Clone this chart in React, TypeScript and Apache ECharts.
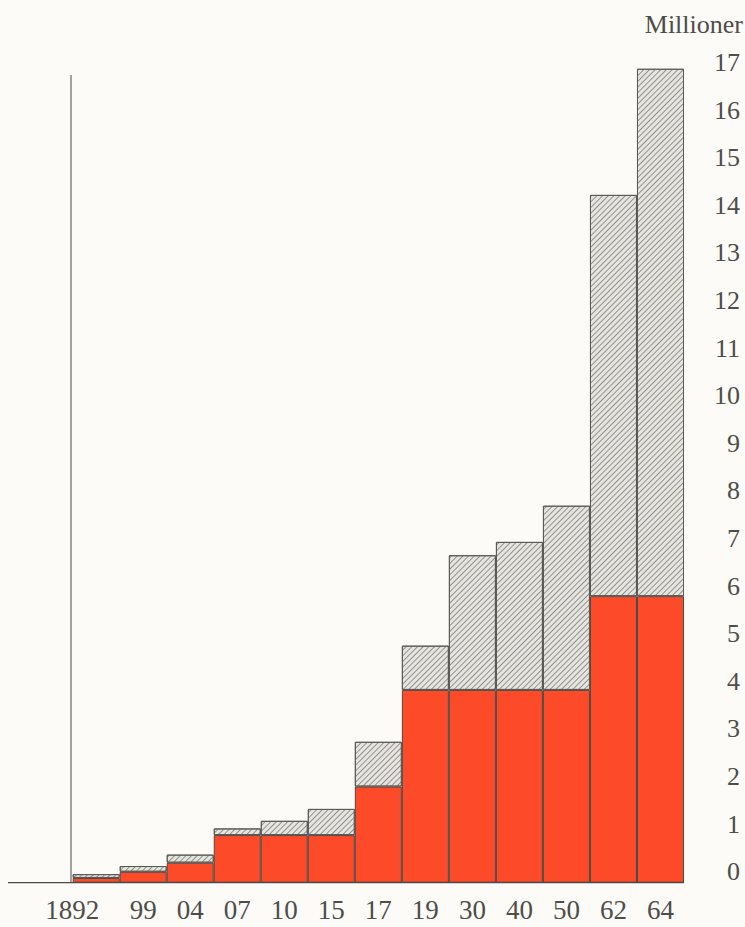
import React, { useEffect, useRef } from "react";
import * as echarts from "echarts";

const years = ["1892", "99", "04", "07", "10", "15", "17", "19", "30", "40", "50", "62", "64"];
const redValues = [0.1, 0.23, 0.42, 1.0, 1.0, 1.0, 2.02, 4.05, 4.05, 4.05, 4.05, 6.02, 6.02];
const totalValues = [0.18, 0.35, 0.59, 1.14, 1.3, 1.55, 2.96, 4.98, 6.88, 7.16, 7.92, 14.45, 17.1];
const yTicks = [0, 17];
const unitLabel = "Millioner";

const W = 745;
const H = 927;
const GRID_LEFT = 72.7;
const GRID_RIGHT = 61;
const GRID_TOP = 64;
const GRID_BOTTOM = 44.3;
const TEXT = "#4e4d49";
const FONT = "Liberation Serif";

export default function App() {
  const ref = useRef<HTMLDivElement>(null);
  useEffect(() => {
    if (!ref.current) return;
    const chart = echarts.init(ref.current, null, { renderer: "svg" });
    const hatched = totalValues.map((t, i) => +(t - redValues[i]).toFixed(3));
    const baseY = H - GRID_BOTTOM;
    chart.setOption({
      animation: false,
      backgroundColor: "#fcfbf8",
      grid: { left: GRID_LEFT, right: GRID_RIGHT, top: GRID_TOP, bottom: GRID_BOTTOM, containLabel: false },
      xAxis: {
        type: "category",
        data: years.map((y, i) =>
          i === 0 ? { value: y, textStyle: { padding: [0, 48, 0, 0] } } : y
        ),
        axisLine: { show: false },
        axisTick: { show: false },
        axisLabel: {
          interval: 0,
          margin: 14,
          color: TEXT,
          fontFamily: FONT,
          fontSize: 27,
        },
      },
      yAxis: {
        type: "value",
        position: "right",
        min: yTicks[0],
        max: 17.2,
        interval: 1,
        splitLine: { show: false },
        axisLine: { show: false },
        axisTick: { show: false },
        axisLabel: {
          margin: 56,
          align: "right",
          verticalAlign: "bottom",
          lineHeight: 22,
          color: TEXT,
          fontFamily: FONT,
          fontSize: 26,
          showMaxLabel: true,
          formatter: (v: number) => (Number.isInteger(v) && v <= yTicks[1] ? String(v) : ""),
        },
      },
      series: [
        {
          type: "bar",
          stack: "total",
          data: redValues,
          barCategoryGap: 0,
          itemStyle: { color: "#fd4a28", borderColor: "#4a4a46", borderWidth: 1 },
        },
        {
          type: "bar",
          stack: "total",
          data: hatched,
          barCategoryGap: 0,
          itemStyle: {
            color: "#e6e5e0",
            borderColor: "#5a5a56",
            borderWidth: 1,
            decal: {
              symbol: "rect",
              color: "rgba(110,110,105,0.7)",
              dashArrayX: [1, 0],
              dashArrayY: [1, 2.2],
              symbolSize: 1,
              rotation: -Math.PI / 4,
            },
          },
        },
      ],
      graphic: [
        {
          type: "line",
          shape: { x1: 8, y1: baseY, x2: W - GRID_RIGHT, y2: baseY },
          style: { stroke: "#4a4a46", lineWidth: 1.2 },
          z: 10,
        },
        {
          type: "line",
          shape: { x1: 71, y1: 75, x2: 71, y2: baseY },
          style: { stroke: "#4a4a46", lineWidth: 1 },
          z: 10,
        },
        {
          type: "text",
          x: 743,
          y: 24,
          style: {
            text: unitLabel,
            align: "right",
            verticalAlign: "middle",
            fill: TEXT,
            font: `26px "${FONT}"`,
          },
        },
      ],
    });
    return () => chart.dispose();
  }, []);
  return (
    <div
      ref={ref}
      style={{ position: "absolute", left: 0, top: 0, width: W, height: H }}
    />
  );
}
